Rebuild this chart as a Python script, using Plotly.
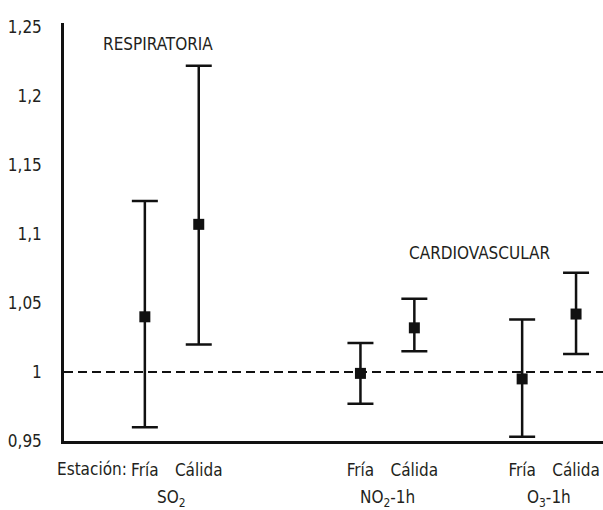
import plotly.graph_objects as go

# ---- data ----
categories = ["Fría", "Cálida", "Fría", "Cálida", "Fría", "Cálida"]
x_pos = [1.5, 2.5, 5.5, 6.5, 8.5, 9.5]
groups = ["SO<sub>2</sub>", "NO<sub>2</sub>-1h", "O<sub>3</sub>-1h"]
point_est = [1.040, 1.107, 0.999, 1.032, 0.995, 1.042]
upper_ci = [1.124, 1.222, 1.021, 1.053, 1.038, 1.072]
lower_ci = [0.960, 1.020, 0.977, 1.015, 0.953, 1.013]
ytick_vals = [0.95, 1.0, 1.05, 1.1, 1.15, 1.2, 1.25]
ytick_text = ["0,95", "1", "1,05", "1,1", "1,15", "1,2", "1,25"]
reference_value = 1.0

FONT = "DejaVu Sans Condensed, Liberation Sans, sans-serif"
TXT = "#231f20"
FS = 17

err_plus = [u - p for u, p in zip(upper_ci, point_est)]
err_minus = [p - l for p, l in zip(point_est, lower_ci)]

fig = go.Figure()
fig.add_trace(go.Scatter(
    x=x_pos, y=point_est, mode="markers",
    marker=dict(symbol="square", size=11, color="#111111"),
    error_y=dict(type="data", symmetric=False, array=err_plus, arrayminus=err_minus,
                 color="#111111", thickness=2.5, width=13),
    showlegend=False, hoverinfo="skip", cliponaxis=False,
))

# reference dashed line at 1
fig.add_shape(type="line", xref="paper", x0=0, x1=1, yref="y",
              y0=reference_value, y1=reference_value,
              line=dict(color="#111111", width=2, dash="9px,5px"))

annotations = []
for i, g in enumerate(groups):
    cx = (x_pos[2 * i] + x_pos[2 * i + 1]) / 2
    annotations.append(dict(x=cx, y=0, xref="x", yref="paper", text=g, showarrow=False,
                            yanchor="middle", yshift=-57,
                            font=dict(family=FONT, size=FS, color=TXT)))
annotations.append(dict(x=x_pos[0], y=0, xref="x", yref="paper", text="Estación:",
                        showarrow=False, xanchor="right", yanchor="middle",
                        xshift=-16, yshift=-28,
                        font=dict(family=FONT, size=FS, color=TXT)))
annotations.append(dict(x=1.74, y=1.2377, xref="x", yref="y", text="RESPIRATORIA",
                        showarrow=False, font=dict(family=FONT, size=FS, color=TXT)))
annotations.append(dict(x=7.72, y=1.086, xref="x", yref="y", text="CARDIOVASCULAR",
                        showarrow=False, font=dict(family=FONT, size=FS, color=TXT)))

fig.update_layout(
    width=603, height=510,
    margin=dict(l=64, r=0, t=23, b=69),
    paper_bgcolor="white", plot_bgcolor="white",
    font=dict(family=FONT, size=FS, color=TXT),
    xaxis=dict(range=[0, 10], tickvals=x_pos, ticktext=categories, showgrid=False,
               zeroline=False, showline=True, linecolor="#111111", linewidth=2.5,
               ticks="", ticklabelstandoff=12, automargin=False,
               tickfont=dict(family=FONT, size=FS, color=TXT)),
    yaxis=dict(range=[0.95, 1.2529], tickvals=ytick_vals, ticktext=ytick_text,
               showgrid=False, zeroline=False, showline=True, linecolor="#111111",
               linewidth=2.5, ticks="", ticklabelstandoff=16, automargin=False,
               tickfont=dict(family=FONT, size=FS, color=TXT)),
    annotations=annotations,
)

fig.write_html("out.html", config={"displayModeBar": False},
               post_script="document.body.style.margin='0';document.body.style.overflow='hidden';")
